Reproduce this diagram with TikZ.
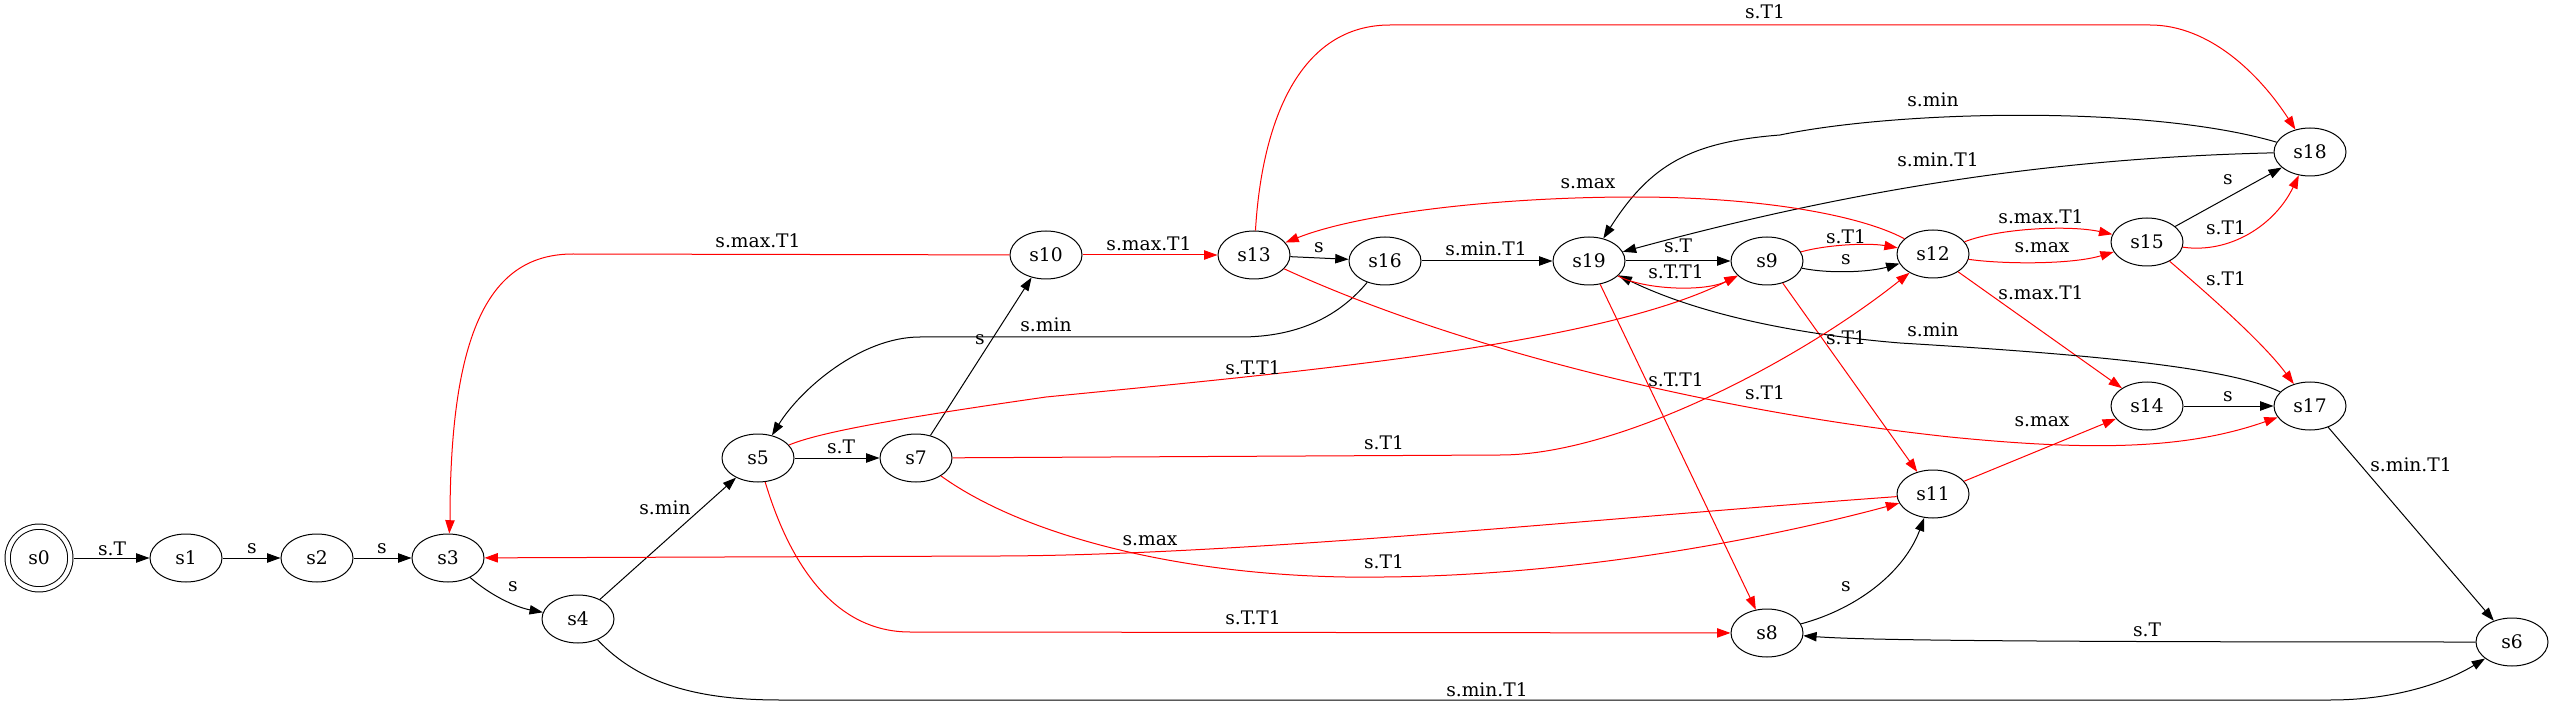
\documentclass[tikz,border=0pt]{standalone}
\usepackage{fontspec}
\setmainfont{DejaVu Serif}
\usetikzlibrary{shapes.geometric,arrows.meta}

\tikzstyle{lines}=[%
	x = 0.75pt,
	y = -0.75pt,
	line width = 0.75pt,
	every node/.style = {font = \fontsize{14}{16}\selectfont}
]
\tikzstyle{state}=[draw, ellipse, minimum width=54pt, minimum height=36pt, inner sep=0pt]
\tikzstyle{start}=[draw, circle, double, double distance=3.2pt, minimum size=47pt, inner sep=0pt, outer sep=2.4pt]
\tikzstyle{tr}=[-{Triangle[length=10pt,width=7pt]}]
\tikzstyle{hi}=[tr, red]
\tikzstyle{lbl}=[inner sep=0pt, text=black]

\begin{document}
\begin{tikzpicture}[lines]
	% Background, frame
	\useasboundingbox (0,0) rectangle (2553,709);

	% States
	\node[start] (s0) at (39,558) {s0};
	\foreach \n/\px/\py in {s1/186/558, s2/317/558, s3/448/558, s4/578/619,
		s5/758/458, s7/916/458, s10/1046/255, s13/1254/255, s16/1385/261,
		s19/1589/261, s9/1767/261, s12/1933/254, s15/2147/242, s18/2310/152,
		s14/2147/406, s17/2310/406, s11/1933/494, s8/1767/633, s6/2512/642} {
		\node[state] (\n) at (\px,\py) {\n};
	}

	% Straight transitions
	\foreach \fr/\tg/\lx/\ly/\lab in {s0/s1/112/549/s.T, s1/s2/252/549/s, s2/s3/382/549/s,
		s4/s5/665/508/s.min, s5/s7/841/447/s.T, s7/s10/980/340/s, s13/s16/1319/248/s,
		s16/s19/1486/249/s.min.T1, s19/s9/1678/246/s.T, s14/s17/2228/397/s,
		s15/s18/2228/180/s, s17/s6/2411/465/s.min.T1} {
		\draw[tr] (\fr) -- (\tg) node[lbl] at (\lx,\ly) {\lab};
	}
	\foreach \fr/\tg/\lx/\ly/\lab in {s10/s13/1149/244/s.max.T1, s9/s11/1846/338/s.T1,
		s12/s14/2041/293/s.max.T1, s11/s14/2042/422/s.max, s19/s8/1676/380/s.T.T1} {
		\draw[hi] (\fr) -- (\tg) node[lbl] at (\lx,\ly) {\lab};
	}

	% Curved transitions, black
	\draw[tr] (s3) .. controls (490,595) and (515,607) .. (s4) node[lbl] at (513,587) {s};
	\draw[tr] (s4) .. controls (640,685) and (700,700) .. (780,700) -- (2330,700)
		.. controls (2400,700) and (2450,680) .. (s6) node[lbl] at (1487,690) {s.min.T1};
	\draw[tr] (s16) .. controls (1340,315) and (1300,337) .. (1240,337) -- (920,337)
		.. controls (860,337) and (800,390) .. (s5) node[lbl] at (1046,325) {s.min};
	\draw[tr] (s9) .. controls (1830,274) and (1870,272) .. (s12) node[lbl] at (1846,260) {s};
	\draw[tr] (s18) .. controls (2150,105) and (1900,110) .. (1780,135)
		.. controls (1690,142) and (1650,165) .. (s19) node[lbl] at (1933,100) {s.min};
	\draw[tr] (s18) .. controls (2050,158) and (1850,190) .. (s19) node[lbl] at (1938,160) {s.min.T1};
	\draw[tr] (s17) .. controls (2230,368) and (2100,355) .. (1900,343)
		.. controls (1780,333) and (1690,310) .. (s19) node[lbl] at (1933,330) {s.min};
	\draw[tr] (s8) .. controls (1860,608) and (1905,570) .. (s11) node[lbl] at (1846,587) {s};
	\draw[tr] (s6) .. controls (2000,642) and (1860,640) .. (s8) node[lbl] at (2147,630) {s.T};

	% Curved transitions, red
	\draw[hi] (s5) .. controls (820,432) and (900,418) .. (1046,397)
		.. controls (1300,372) and (1600,345) .. (s9) node[lbl] at (1253,368) {s.T.T1};
	\draw[hi] (s5) .. controls (790,565) and (835,632) .. (910,632) -- (s8)
		node[lbl] at (1253,618) {s.T.T1};
	\draw[hi] (s7) -- (1500,455) .. controls (1620,455) and (1800,360) .. (s12)
		node[lbl] at (1384,443) {s.T1};
	\draw[hi] (s7) .. controls (1030,540) and (1200,580) .. (1384,577)
		.. controls (1600,575) and (1800,530) .. (s11) node[lbl] at (1384,562) {s.T1};
	\draw[hi] (s10) -- (573,254) .. controls (490,254) and (450,330) .. (450,520) -- (s3)
		node[lbl] at (758,241) {s.max.T1};
	\draw[hi] (s13) .. controls (1262,120) and (1300,25) .. (1390,25) -- (2150,25)
		.. controls (2210,25) and (2260,75) .. (s18) node[lbl] at (1765,12) {s.T1};
	\draw[hi] (s13) .. controls (1450,345) and (1700,410) .. (1950,437)
		.. controls (2100,452) and (2190,448) .. (s17) node[lbl] at (1765,393) {s.T1};
	\draw[hi] (s19) .. controls (1645,290) and (1705,292) .. (s9) node[lbl] at (1676,272) {s.T.T1};
	\draw[hi] (s9) .. controls (1830,244) and (1870,243) .. (s12) node[lbl] at (1846,237) {s.T1};
	\draw[hi] (s12) .. controls (1860,215) and (1760,197) .. (1634,197)
		.. controls (1500,197) and (1360,213) .. (s13) node[lbl] at (1588,184) {s.max};
	\draw[hi] (s12) .. controls (2000,228) and (2070,225) .. (s15) node[lbl] at (2041,217) {s.max.T1};
	\draw[hi] (s12) .. controls (2000,264) and (2070,265) .. (s15) node[lbl] at (2042,248) {s.max};
	\draw[hi] (s15) .. controls (2230,254) and (2275,225) .. (s18) node[lbl] at (2226,228) {s.T1};
	\draw[hi] (s15) .. controls (2215,300) and (2265,345) .. (s17) node[lbl] at (2226,279) {s.T1};
	\draw[hi] (s11) .. controls (1600,518) and (1250,555) .. (1000,556) -- (s3)
		node[lbl] at (1150,541) {s.max};

\end{tikzpicture}
\end{document}
